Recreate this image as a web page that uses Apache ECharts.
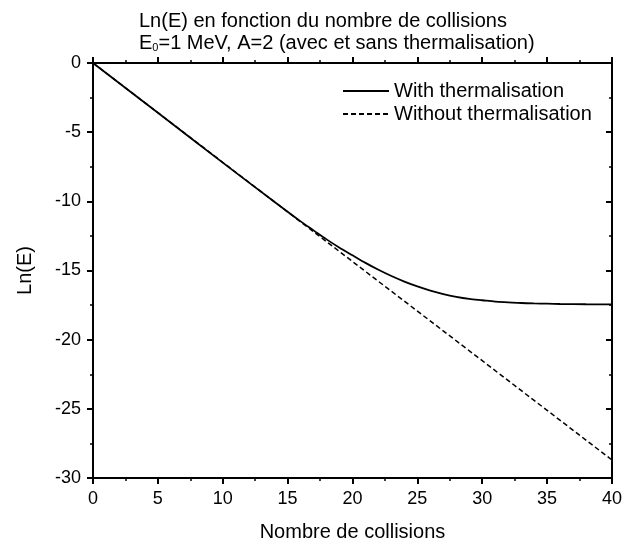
<!DOCTYPE html>
<html>
<head>
<meta charset="utf-8">
<script src="https://cdn.jsdelivr.net/npm/echarts@6/dist/echarts.min.js"></script>
<style>html,body{margin:0;padding:0;background:#fff}#c{width:625px;height:547px}</style>
</head>
<body>
<div id="c"></div>
<script>
// Data
const withTherm = [
  [0, 0], [5, -3.6], [10, -7.2], [14, -10.05], [16, -11.45], [17, -12.1],
  [18, -12.75], [19, -13.35], [20, -13.9], [21, -14.45], [22, -14.95],
  [23, -15.4], [24, -15.8], [25, -16.15], [26, -16.45], [27, -16.7],
  [28, -16.9], [29, -17.05], [30, -17.15], [31, -17.25], [32, -17.3],
  [33, -17.35], [34, -17.38], [35, -17.4], [36, -17.42], [38, -17.44], [40, -17.45]
];
const withoutTherm = [
  [0, 0], [10, -7.18], [20, -14.35], [30, -21.52], [40, -28.7]
];
const seriesNames = ['With thermalisation', 'Without thermalisation'];
const xTicks = [0, 5, 10, 15, 20, 25, 30, 35, 40];
const yTicks = [0, -5, -10, -15, -20, -25, -30];

const FONT = '"Liberation Sans", Arial, sans-serif';
const chart = echarts.init(document.getElementById('c'), null, {renderer: 'canvas'});

const axisCommon = {
  axisLine: {show: true, onZero: false, lineStyle: {color: '#000', width: 2}},
  splitLine: {show: false},
  minorSplitLine: {show: false}
};

chart.setOption({
  animation: false,
  backgroundColor: '#fff',
  title: {
    left: 134, top: 5,
    text: 'Ln(E) en fonction du nombre de collisions\nE{sub|0}=1 MeV, A=2 (avec et sans thermalisation)',
    textStyle: {
      fontFamily: FONT, fontSize: 20, fontWeight: 'normal', color: '#000', lineHeight: 22,
      rich: {sub: {fontFamily: FONT, fontSize: 11, color: '#000', padding: [10, 0, 0, 0], lineHeight: 22}}
    }
  },
  legend: {
    left: 337, top: 76, orient: 'vertical', itemWidth: 46, itemHeight: 14, itemGap: 3,
    data: seriesNames,
    itemStyle: {opacity: 0, borderWidth: 0},
    textStyle: {fontFamily: FONT, fontSize: 20, color: '#000'}
  },
  grid: {left: 93, right: 7, top: 63, bottom: 64, containLabel: false},
  xAxis: [
    Object.assign({}, axisCommon, {
      type: 'value', min: xTicks[0], max: xTicks[xTicks.length - 1], interval: 5,
      position: 'bottom',
      name: 'Nombre de collisions', nameLocation: 'middle', nameGap: 44,
      nameTextStyle: {fontFamily: FONT, fontSize: 20, color: '#000'},
      axisTick: {show: true, inside: false, length: 6, lineStyle: {color: '#000', width: 2}},
      minorTick: {show: true, splitNumber: 2, length: 3, lineStyle: {color: '#000', width: 1.5}},
      axisLabel: {fontFamily: FONT, fontSize: 18, color: '#000', margin: 12}
    }),
    Object.assign({}, axisCommon, {
      type: 'value', min: xTicks[0], max: xTicks[xTicks.length - 1], interval: 5,
      position: 'top',
      axisTick: {show: true, inside: false, length: 6, lineStyle: {color: '#000', width: 2}},
      minorTick: {show: true, splitNumber: 2, length: 3, lineStyle: {color: '#000', width: 1.5}},
      axisLabel: {show: false}
    })
  ],
  yAxis: [
    Object.assign({}, axisCommon, {
      type: 'value', min: yTicks[yTicks.length - 1], max: yTicks[0], interval: 5,
      position: 'left',
      name: 'Ln(E)', nameLocation: 'middle', nameGap: 58, nameRotate: 90,
      nameTextStyle: {fontFamily: FONT, fontSize: 20, color: '#000'},
      axisTick: {show: true, inside: false, length: 6, lineStyle: {color: '#000', width: 2}},
      minorTick: {show: true, splitNumber: 2, length: 3, lineStyle: {color: '#000', width: 1.5}},
      axisLabel: {fontFamily: FONT, fontSize: 18, color: '#000', margin: 12}
    }),
    Object.assign({}, axisCommon, {
      type: 'value', min: yTicks[yTicks.length - 1], max: yTicks[0], interval: 5,
      position: 'right',
      axisTick: {show: true, inside: true, length: 6, lineStyle: {color: '#000', width: 2}},
      minorTick: {show: true, splitNumber: 2, length: 3, lineStyle: {color: '#000', width: 1.5}},
      axisLabel: {show: false}
    })
  ],
  series: [
    {
      name: seriesNames[0], type: 'line', data: withTherm, smooth: 0.3,
      showSymbol: false, symbol: 'none', xAxisIndex: 0, yAxisIndex: 0,
      lineStyle: {color: '#000', width: 1.8, type: 'solid'},
      itemStyle: {color: '#000'}
    },
    {
      name: seriesNames[1], type: 'line', data: withoutTherm,
      showSymbol: false, symbol: 'none', xAxisIndex: 0, yAxisIndex: 0,
      lineStyle: {color: '#000', width: 1.5, type: [5, 3]},
      itemStyle: {color: '#000'}
    }
  ]
});
</script>
</body>
</html>
